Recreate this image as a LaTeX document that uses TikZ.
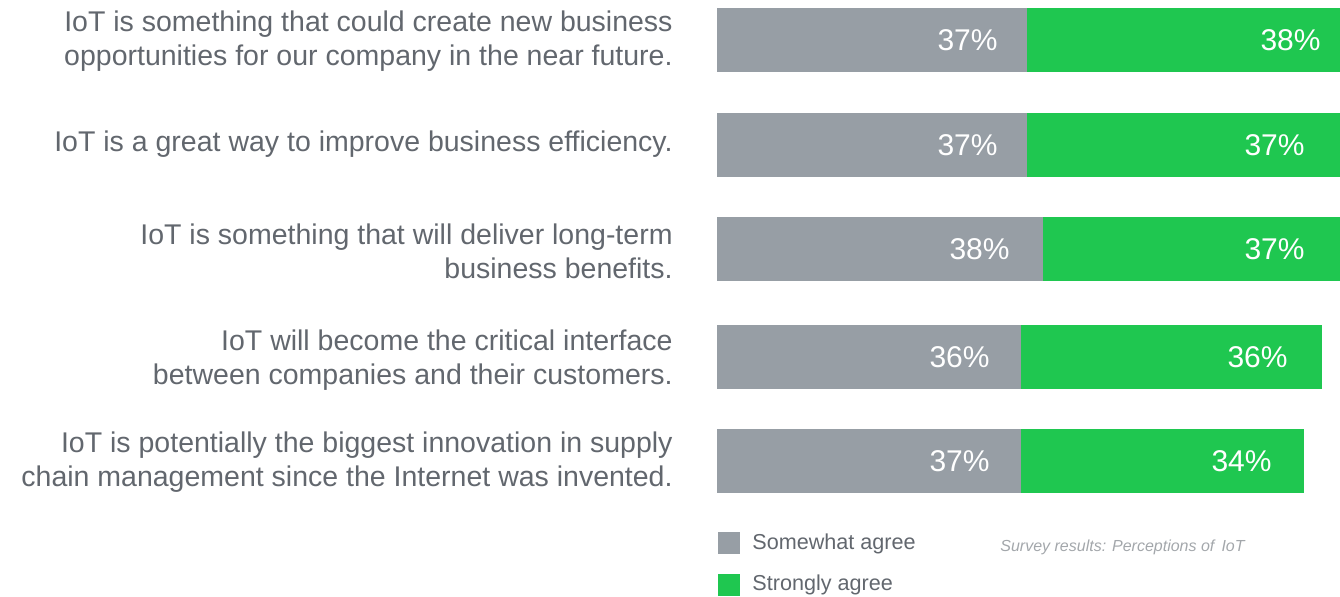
\documentclass[tikz,border=0pt]{standalone}
\usepackage{fontspec}
\setmainfont{Liberation Sans}
\usepackage{tikz}
\usetikzlibrary{positioning}
\definecolor{somewhatgray}{HTML}{979EA5}
\definecolor{stronglygreen}{HTML}{1FC750}
\definecolor{textgray}{HTML}{62676E}
\definecolor{notegray}{HTML}{A3A7AB}
\tikzstyle{question}=[anchor=east,align=right,inner sep=0pt,text=textgray,font=\fontsize{14.25}{17}\selectfont]
\tikzstyle{pct}=[anchor=east,inner sep=0pt,text=white,font=\fontsize{15}{18}\selectfont]
\tikzstyle{legendbox}=[rectangle,draw=none,minimum size=11pt,inner sep=0pt]
\tikzstyle{legendtext}=[anchor=west,inner sep=0pt,text=textgray,font=\fontsize{10.8}{13}\selectfont]
\tikzstyle{note}=[anchor=west,inner sep=0pt,text=notegray,font=\fontsize{8}{10}\selectfont\itshape]

\begin{document}
\begin{tikzpicture}[x=0.5pt,y=-0.5pt]
    \useasboundingbox (0,0) rectangle (1340,597);
    % the statements on the left
    \node[question] (q1) at (673,41) {IoT is something that could create new business\\opportunities for our company in the near future.};
    \node[question] (q2) at (673,144) {IoT is a great way to improve business efficiency.};
    \node[question] (q3) at (673,251) {IoT is something that will deliver long-term\\business benefits.};
    \node[question] (q4) at (673,360) {IoT will become the critical interface\\between companies and their customers.};
    \node[question] (q5) at (673,462) {IoT is potentially the biggest innovation in supply\\chain management since the Internet was invented.};

    % Then the stacked bars and their values
    \foreach \top/\gend/\send/\gx/\sx/\gval/\sval/\name in {8/1027/1340/998/1321/37/38/r1, 113/1027/1340/998/1305/37/37/r2, 217/1043/1340/1010/1305/38/37/r3, 325/1021/1322/990/1288/36/36/r4, 429/1021/1304/990/1272/37/34/r5}
    {
        \fill[somewhatgray] (717,\top) rectangle (\gend,\top+64);
        \fill[stronglygreen] (\gend,\top) rectangle (\send,\top+64);
        \node[pct] (\name g) at (\gx,\top+32) {\gval\%};
        \node[pct] (\name s) at (\sx,\top+32) {\sval\%};
    }

    % legend
    \node[legendbox,fill=somewhatgray] (somewhat) at (729,543) {};
    \node[legendbox,fill=stronglygreen] (strongly) at (729,585) {};
    \node[legendtext] (somewhatlabel) at (752,544) {Somewhat agree};
    \node[legendtext] (stronglylabel) at (752,585) {Strongly agree};
    \node[note] (survey) at (1000,547) {Survey results: Perceptions of\, IoT};
\end{tikzpicture}
\end{document}
